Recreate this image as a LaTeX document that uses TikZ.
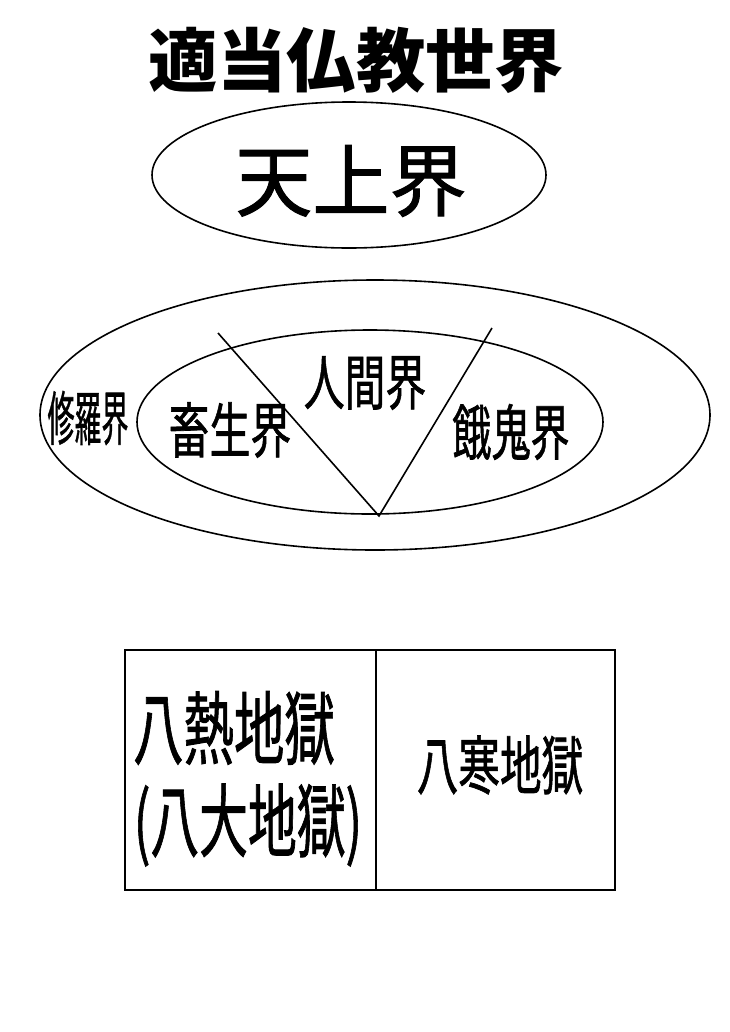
\documentclass[tikz,border=0pt]{standalone}
\usepackage{fontspec}
\newfontfamily\jp{Noto Sans CJK JP}
\newfontfamily\jpm{Noto Sans CJK JP}[FakeBold=1.2]
\tikzset{
  shape line/.style={draw=black, line width=1.2pt},
  lbl/.style={inner sep=0pt, font=\jpm}
}
\begin{document}
\begin{tikzpicture}[x=0.75pt,y=-0.75pt]
\useasboundingbox[fill=white] (0,0) rectangle (729,1032);
% title
\node[lbl, font=\jp\bfseries\fontsize{52}{58}\selectfont] (title) at (356,60) {適当仏教世界};
% heaven
\draw[shape line] (349,175) ellipse [x radius=197, y radius=73];
\node[lbl, font=\jpm\fontsize{59}{64}\selectfont] (ten) at (351,181) {\scalebox{0.98}[1]{天上界}};
% middle worlds
\draw[shape line] (375,415) ellipse [x radius=335, y radius=135];
\draw[shape line] (370,422) ellipse [x radius=233, y radius=92];
\coordinate (la) at (218,333);
\coordinate (ra) at (492,328);
\coordinate (tip) at (379,516);
\draw[shape line] (la) -- (tip) -- (ra);
\node[lbl, font=\jpm\fontsize{44}{50}\selectfont] (shura) at (88,418) {\scalebox{0.46}[1]{修羅界}};
\node[lbl, font=\jpm\fontsize{45}{50}\selectfont] (chiku) at (230,430) {\scalebox{0.68}[1]{畜生界}};
\node[lbl, font=\jpm\fontsize{45}{50}\selectfont] (nin) at (365,383) {\scalebox{0.68}[1]{人間界}};
\node[lbl, font=\jpm\fontsize{45}{50}\selectfont] (gaki) at (511,432) {\scalebox{0.65}[1]{餓鬼界}};
% hells
\draw[shape line] (125,650) rectangle (615,890);
\draw[shape line] (376,650) -- (376,890);
\node[lbl, font=\jpm\fontsize{60}{66}\selectfont] (hachinetsu) at (234,728) {\scalebox{0.63}[1]{八熱地獄}};
\node[lbl, font=\jpm\fontsize{60}{66}\selectfont] (hachidai) at (248,825) {\scalebox{0.61}[1]{(八大地獄)}};
\node[lbl, font=\jpm\fontsize{48}{54}\selectfont] (hachikan) at (500,765) {\scalebox{0.65}[1]{八寒地獄}};
\end{tikzpicture}
\end{document}
